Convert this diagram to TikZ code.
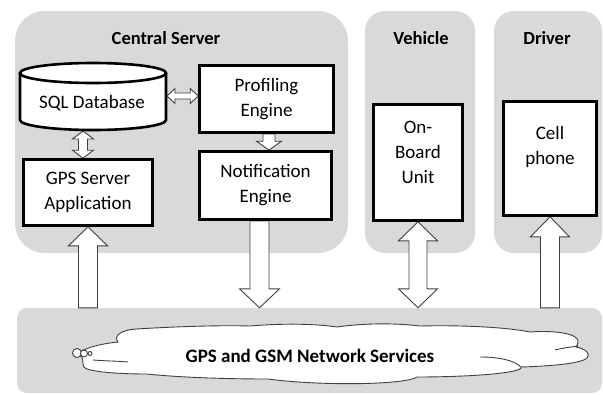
\documentclass[tikz,border=0pt]{standalone}
\usepackage{fontspec}
\setmainfont{Carlito}
\usetikzlibrary{calc}

\definecolor{panelgray}{HTML}{D9D9D9}
\definecolor{edgegray}{HTML}{404040}

\pgfdeclarelayer{panellayer}
\pgfdeclarelayer{arrowlayer}
\pgfsetlayers{panellayer,arrowlayer,main}

\tikzset{
  panel/.style={fill=panelgray, draw=none, inner sep=0pt},
  box/.style={draw=black, line width=2.6pt, fill=white, inner sep=0pt},
  lbl/.style={font=\fontsize{19}{25}\selectfont, align=center, inner sep=0pt},
  heading/.style={font=\fontsize{18.5}{22}\selectfont\bfseries, inner sep=0pt},
  fatarrow/.style={draw=edgegray, line width=0.9pt, fill=white, line join=miter},
  cloudline/.style={draw=edgegray, line width=0.9pt}
}

% block arrow from tail #1 to tip #2: shaft half width #3, head half width #4, head length #5
\newcommand\blockarrow[5]{%
  \draw[fatarrow] let \p1=(#1), \p2=(#2), \p3=($(#2)!#5!(#1)$) in
    (\x1-#3,\y1) -- (\x1-#3,\y3) -- (\x1-#4,\y3) -- (\x1,\y2)
    -- (\x1+#4,\y3) -- (\x1+#3,\y3) -- (\x1+#3,\y1) -- cycle;}
% vertical block arrow with a head at both ends
\newcommand\blockdouble[5]{%
  \draw[fatarrow] let \p1=(#1), \p2=(#2), \p3=($(#1)!#5!(#2)$), \p4=($(#2)!#5!(#1)$) in
    (\x1,\y1) -- (\x1+#4,\y3) -- (\x1+#3,\y3) -- (\x1+#3,\y4) -- (\x1+#4,\y4)
    -- (\x1,\y2) -- (\x1-#4,\y4) -- (\x1-#3,\y4) -- (\x1-#3,\y3) -- (\x1-#4,\y3) -- cycle;}
% horizontal block arrow with a head at both ends
\newcommand\blockdoubleh[5]{%
  \draw[fatarrow] let \p1=(#1), \p2=(#2), \p3=($(#1)!#5!(#2)$), \p4=($(#2)!#5!(#1)$) in
    (\x1,\y1) -- (\x3,\y1+#4) -- (\x3,\y1+#3) -- (\x4,\y1+#3) -- (\x4,\y1+#4)
    -- (\x2,\y1) -- (\x4,\y1-#4) -- (\x4,\y1-#3) -- (\x3,\y1-#3) -- (\x3,\y1-#4) -- cycle;}

\begin{document}
\begin{tikzpicture}[x=1pt,y=-1pt]
\useasboundingbox (0,0) rectangle (603,394);

% grey group panels
\begin{pgfonlayer}{panellayer}
  \node[panel, rounded corners=30pt, minimum width=333pt, minimum height=242pt] (central) at (181.5,132) {};
  \node[panel, rounded corners=20pt, minimum width=110pt, minimum height=242pt] (vehicle) at (420,132) {};
  \node[panel, rounded corners=20pt, minimum width=108pt, minimum height=242pt] (driver) at (548,132) {};
  \node[panel, rounded corners=10pt, minimum width=585pt, minimum height=85pt] (band) at (309.5,350.5) {};
\end{pgfonlayer}

% group headings
\node[heading] (csT) at (166,38) {Central Server};
\node[heading] (vehT) at (421,38) {Vehicle};
\node[heading] (drvT) at (547,38) {Driver};

% database cylinder
\filldraw[box] (20,73) -- (20,120) arc[start angle=180, end angle=0, x radius=73, y radius=10] -- (166,73);
\filldraw[box] (93,73) ellipse[x radius=73, y radius=10];
\node[lbl] (sql) at (92,103) {SQL Database};
\coordinate (sqlE) at (167,96);
\coordinate (sqlS) at (83,131);

% component boxes
\node[box, lbl, minimum width=134pt, minimum height=67pt] (prof) at (266.5,99) {Profiling\\Engine};
\node[box, lbl, minimum width=132pt, minimum height=68pt] (notif) at (265.5,185.5) {Notification\\Engine};
\node[box, lbl, minimum width=129pt, minimum height=66pt] (gps) at (88,192.5) {GPS Server\\Application};
\node[box, minimum width=89pt, minimum height=116pt] (obu) at (418,162.5) {};
\node[lbl] (obuT) at (418,152) {On-\\Board\\Unit};
\node[box, minimum width=93pt, minimum height=114pt] (cell) at (550,158.5) {};
\node[lbl] (cellT) at (550,147) {Cell\\phone};

% network cloud
\draw[cloudline, fill=white]
  (86,349) .. controls (96,345) and (108,343) .. (118,342)
  .. controls (113,336) and (121,330) .. (136,329)
  .. controls (170,327) and (215,325) .. (250,326)
  .. controls (285,323) and (318,324) .. (337,327)
  .. controls (365,323) and (395,323) .. (420,326)
  .. controls (460,325) and (505,327) .. (530,332)
  .. controls (556,330) and (578,334) .. (578,341)
  .. controls (578,344) and (577,346) .. (576,347)
  .. controls (586,349) and (591,354) .. (587,358)
  .. controls (582,363) and (555,366) .. (521,367)
  .. controls (524,373) and (470,377) .. (417,377)
  .. controls (405,385) and (320,386) .. (268,379)
  .. controls (220,379) and (175,377) .. (147,374)
  .. controls (112,374) and (86,371) .. (84,367)
  .. controls (82,363) and (84,358) .. (80,355)
  .. controls (80,352) and (82,350) .. (86,349) -- cycle;
\draw[cloudline] (93,360) .. controls (105,361) and (118,361) .. (128,362);
\draw[cloudline] (555,350) .. controls (563,348) and (571,347) .. (578,346);
\draw[cloudline] (480,357) .. controls (498,357) and (514,360) .. (521,367);
\draw[cloudline, fill=white] (77,353) circle[radius=4.5];
\draw[cloudline, fill=white] (84,353.5) circle[radius=3.5];
\draw[cloudline, fill=white] (90,353.5) circle[radius=2];
\node[heading, font=\fontsize{19}{22}\selectfont\bfseries] (net) at (310,356) {GPS and GSM Network Services};

% block arrows between components
\coordinate (nd) at ($(notif.south)+(-6,0)$);
\coordinate (pd) at ($(prof.south)+(2.5,0)$);
\begin{pgfonlayer}{arrowlayer}
  \blockarrow{gps.south |- band.north}{gps.south}{9.5pt}{19.5pt}{19pt}
  \blockarrow{nd}{nd |- band.north}{9.5pt}{20pt}{19pt}
  \blockdouble{obu.south}{obu.south |- band.north}{9pt}{19.5pt}{19pt}
  \blockarrow{cell.south |- band.north}{cell.south}{9.5pt}{19.5pt}{20pt}
  \blockdoubleh{sqlE}{sqlE -| prof.west}{3pt}{7.5pt}{8pt}
  \blockdouble{sqlS}{sqlS |- gps.north}{4.5pt}{10.5pt}{8pt}
  \blockarrow{pd}{pd |- notif.north}{6pt}{12.5pt}{9pt}
\end{pgfonlayer}
\end{tikzpicture}
\end{document}
